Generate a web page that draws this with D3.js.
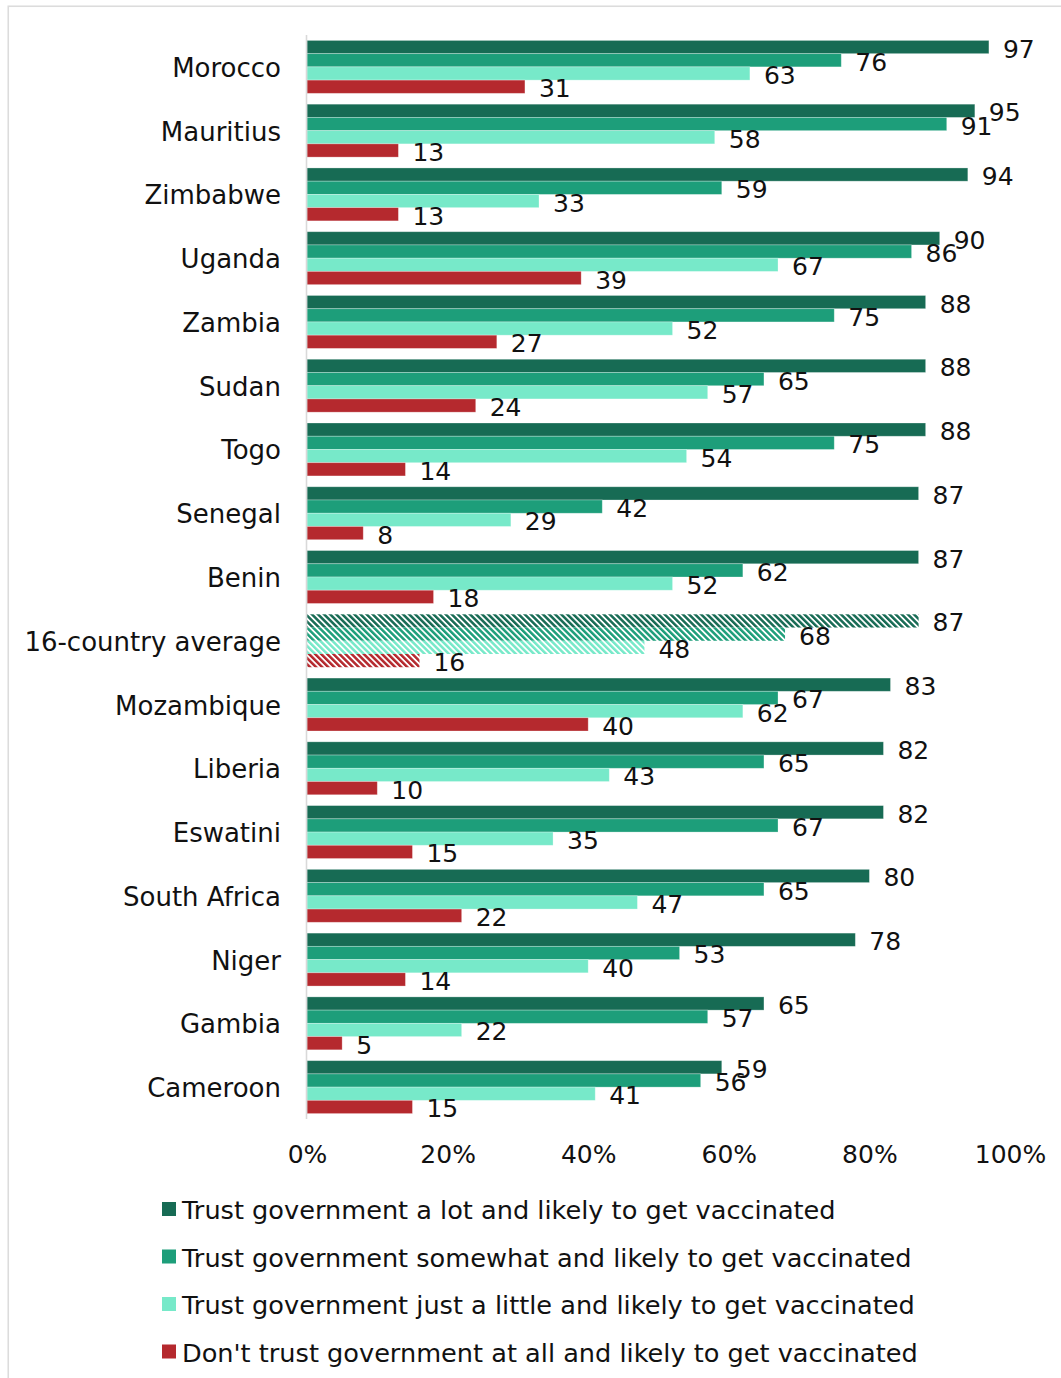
<!DOCTYPE html>
<html>
<head>
<meta charset="utf-8">
<script src="https://cdn.jsdelivr.net/npm/d3@7"></script>
<style>
  html, body { margin: 0; padding: 0; background: #fff; }
  svg text { font-family: "DejaVu Sans", "Noto Sans", sans-serif; fill: #111; }
</style>
</head>
<body>
<svg id="chart" width="1061" height="1378"></svg>
<script>
// Countries, top to bottom
const countries = ["Morocco", "Mauritius", "Zimbabwe", "Uganda", "Zambia", "Sudan", "Togo",
  "Senegal", "Benin", "16-country average", "Mozambique", "Liberia", "Eswatini",
  "South Africa", "Niger", "Gambia", "Cameroon"];

// Share likely to get vaccinated (%), by level of trust in government
const trustALot      = [97, 95, 94, 90, 88, 88, 88, 87, 87, 87, 83, 82, 82, 80, 78, 65, 59];
const trustSomewhat  = [76, 91, 59, 86, 75, 65, 75, 42, 62, 68, 67, 65, 67, 65, 53, 57, 56];
const trustLittle    = [63, 58, 33, 67, 52, 57, 54, 29, 52, 48, 62, 43, 35, 47, 40, 22, 41];
const trustNotAtAll  = [31, 13, 13, 39, 27, 24, 14,  8, 18, 16, 40, 10, 15, 22, 14,  5, 15];

const seriesNames = [
  "Trust government a lot and likely to get vaccinated",
  "Trust government somewhat and likely to get vaccinated",
  "Trust government just a little and likely to get vaccinated",
  "Don't trust government at all and likely to get vaccinated"
];
const seriesColors = ["#176b54", "#1d9e7a", "#77e9c9", "#b5292e"];
const tickValues = [0, 20, 40, 60, 80, 100];
const averageLabel = "16-country average";

const seriesValues = [trustALot, trustSomewhat, trustLittle, trustNotAtAll];

const svg = d3.select("#chart");

// outer frame
svg.append("rect")
  .attr("x", 8.25).attr("y", 6.25)
  .attr("width", 1200).attr("height", 1500)
  .attr("fill", "none").attr("stroke", "#dcdcdc").attr("stroke-width", 1.6);

// diagonal hatch patterns for the average row
const defs = svg.append("defs");
seriesColors.forEach((c, i) => {
  const p = defs.append("pattern")
    .attr("id", "hatch" + i)
    .attr("patternUnits", "userSpaceOnUse")
    .attr("width", 4.3).attr("height", 4.3)
    .attr("patternTransform", "rotate(-45)");
  p.append("rect").attr("width", 4.3).attr("height", 4.3).attr("fill", "#fff");
  p.append("rect").attr("width", 2.5).attr("height", 4.3).attr("fill", c);
});

const x = d3.scaleLinear().domain([0, 100]).range([307, 1010]);
const y = d3.scaleBand().domain(countries).range([35, 1119])
  .paddingInner(0.17).paddingOuter(0.085);
const ySub = d3.scaleBand().domain(d3.range(4)).range([0, y.bandwidth()]);

// bars
const rows = svg.append("g").selectAll("g.row")
  .data(countries)
  .join("g")
  .attr("class", "row")
  .attr("transform", d => `translate(0,${y(d)})`);

rows.each(function (country, ci) {
  const g = d3.select(this);
  const isAvg = country === averageLabel;
  seriesValues.forEach((vals, si) => {
    const v = vals[ci];
    g.append("rect")
      .attr("x", x(0))
      .attr("y", ySub(si))
      .attr("width", x(v) - x(0))
      .attr("height", ySub.bandwidth())
      .attr("fill", isAvg ? `url(#hatch${si})` : seriesColors[si])
      .attr("stroke", isAvg ? "none" : "rgba(255,255,255,0.35)")
      .attr("stroke-width", 0.8);
    g.append("text")
      .attr("x", x(v) + 14)
      .attr("y", ySub(si) + ySub.bandwidth() / 2 + 2)
      .attr("dominant-baseline", "central")
      .attr("font-size", 25)
      .text(v);
  });
});

// vertical axis line
svg.append("line")
  .attr("x1", 306.5).attr("x2", 306.5)
  .attr("y1", 35).attr("y2", 1119)
  .attr("stroke", "#d9d9d9").attr("stroke-width", 1.6);

// category labels
svg.append("g").selectAll("text")
  .data(countries)
  .join("text")
  .attr("x", 281)
  .attr("y", d => y(d) + y.bandwidth() / 2 + 1)
  .attr("text-anchor", "end")
  .attr("dominant-baseline", "central")
  .attr("font-size", 26)
  .text(d => d);

// x axis
const xAxis = d3.axisBottom(x)
  .tickValues(tickValues)
  .tickFormat(d => d + "%")
  .tickSize(0)
  .tickPadding(0);
const ax = svg.append("g").attr("transform", "translate(0,1145)").call(xAxis);
ax.select(".domain").remove();
ax.selectAll("text")
  .attr("font-size", 25)
  .attr("font-family", "DejaVu Sans, sans-serif")
  .attr("fill", "#111")
  .attr("dy", "0.71em");

// legend
const legend = svg.append("g").selectAll("g")
  .data(seriesNames)
  .join("g")
  .attr("transform", (d, i) => `translate(162,${1209 + i * 47.5})`);
legend.append("rect")
  .attr("x", 0).attr("y", -7)
  .attr("width", 14).attr("height", 14)
  .attr("fill", (d, i) => seriesColors[i]);
legend.append("text")
  .attr("x", 20).attr("y", 1)
  .attr("dominant-baseline", "central")
  .attr("font-size", 25.6)
  .text(d => d);
</script>
</body>
</html>
